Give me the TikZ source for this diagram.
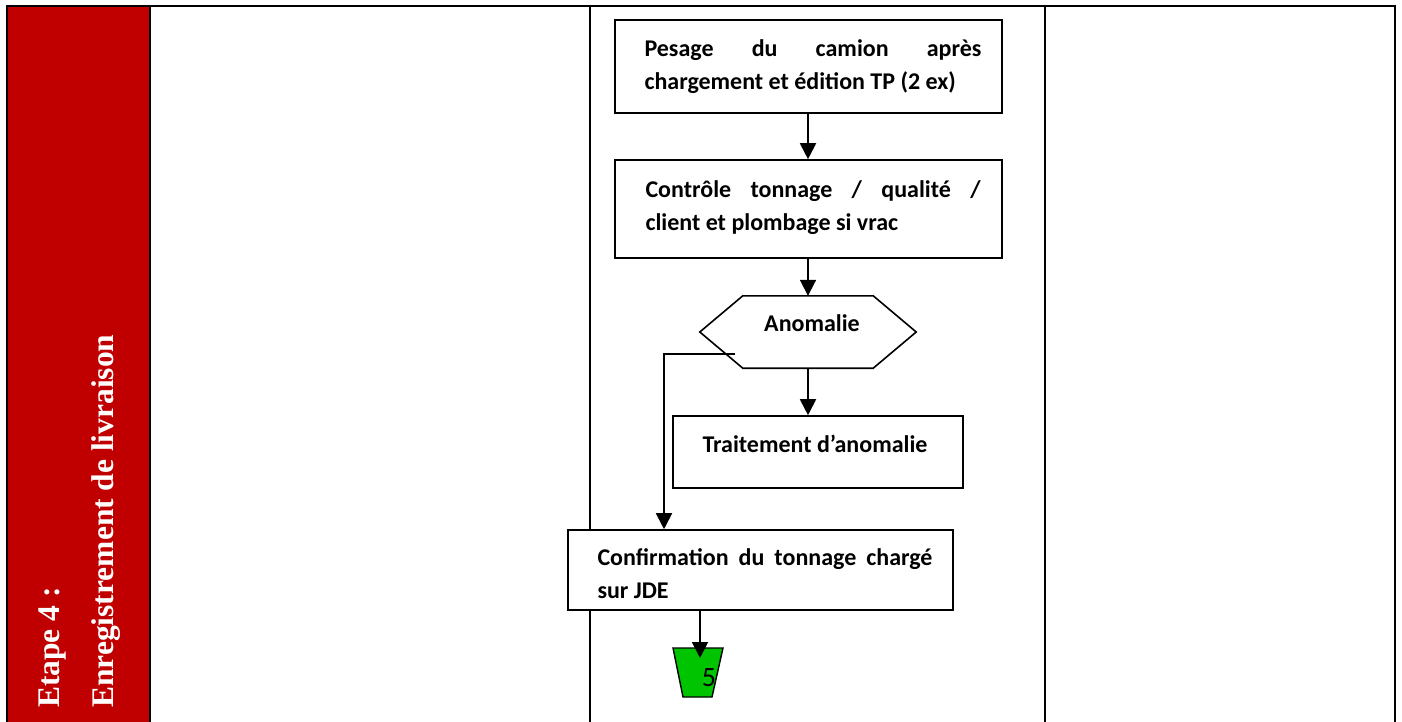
\documentclass[tikz,border=0pt]{standalone}
\usepackage{fontspec}
\setmainfont{Liberation Serif}
\newfontfamily\calibri{Carlito}
\usetikzlibrary{arrows.meta}
\definecolor{stepred}{RGB}{192,0,0}
\definecolor{linkgreen}{RGB}{0,196,0}

\begin{document}
\begin{tikzpicture}[x=1pt,y=-1pt,
  grid/.style={line width=2.2pt},
  flowbox/.style={draw, line width=1.6pt, fill=white, inner sep=0pt},
  flowtext/.style={font=\calibri\bfseries\fontsize{24}{33}\selectfont, align=left, inner sep=0pt},
  flow/.style={line width=1.9pt, -{Triangle[width=16pt,length=16pt]}},
]
\useasboundingbox (0,0) rectangle (1402,722);

% step band on the left
\fill[stepred] (7,5) rectangle (150,722);
\node[rotate=90, anchor=south west, align=left, text=white, inner sep=0pt,
      font=\bfseries\fontsize{31.5}{54}\selectfont] (steplabel) at (121,708)
      {Etape 4 :\\Enregistrement de livraison};

% table frame
\draw[grid] (7,722) -- (7,6) -- (1395,6) -- (1395,722);
\draw[grid] (150,6) -- (150,722);
\draw[grid] (590,6) -- (590,722);
\draw[grid] (1045,6) -- (1045,722);

% process boxes
\node[flowbox, minimum width=387pt, minimum height=93pt] (pesage) at (808.5,66.5) {};
\node[flowtext] (pesageT) at (813,67)
  {\makebox[337pt][s]{Pesage du camion après}\\chargement et édition TP (2 ex)};

\node[flowbox, minimum width=387pt, minimum height=98pt] (controle) at (808.5,209) {};
\node[flowtext] (controleT) at (813,208)
  {\makebox[335pt][s]{Contrôle tonnage / qualité /}\\client et plombage si vrac};

% decision: hexagon built on the anchors of an invisible node
\node[minimum width=216pt, minimum height=72pt, inner sep=0pt] (anomalie) at (808,332) {};
\draw[line width=1.6pt, fill=white] (anomalie.west)
  -- ([xshift=43pt]anomalie.north west) -- ([xshift=-43pt]anomalie.north east)
  -- (anomalie.east)
  -- ([xshift=-43pt]anomalie.south east) -- ([xshift=43pt]anomalie.south west) -- cycle;
\node[flowtext] (anomalieT) at (812,323) {Anomalie};

\node[flowbox, minimum width=290pt, minimum height=72pt] (traitement) at (818,452) {};
\node[flowtext] (traitementT) at (815,444) {Traitement d’anomalie};

\node[flowbox, minimum width=385pt, minimum height=80pt] (confirm) at (760.5,570) {};
\node[flowtext] (confirmT) at (765,574)
  {\makebox[335pt][s]{Confirmation du tonnage chargé}\\sur JDE};

% off-page link
\filldraw[fill=linkgreen, draw=black, line width=1.4pt] (673,648) -- (723,648) -- (712,697) -- (683,697) -- cycle;
\node[font=\calibri\fontsize{28}{28}\selectfont, inner sep=0pt] (link5) at (709,678) {5};
\coordinate (linkTop) at (700,658);

% connectors
\draw[flow] (pesage.south -| anomalie.center) -- (controle.north -| anomalie.center);
\draw[flow] (controle.south -| anomalie.center) -- (anomalie.north);
\draw[flow] (anomalie.south) -- (traitement.north -| anomalie.center);
\coordinate (bypass) at (735,354);
\draw[flow] (bypass) -- (664,354) -- (confirm.north -| 664,0);
\draw[flow] (confirm.south -| 700,0) -- (linkTop);
\end{tikzpicture}
\end{document}
